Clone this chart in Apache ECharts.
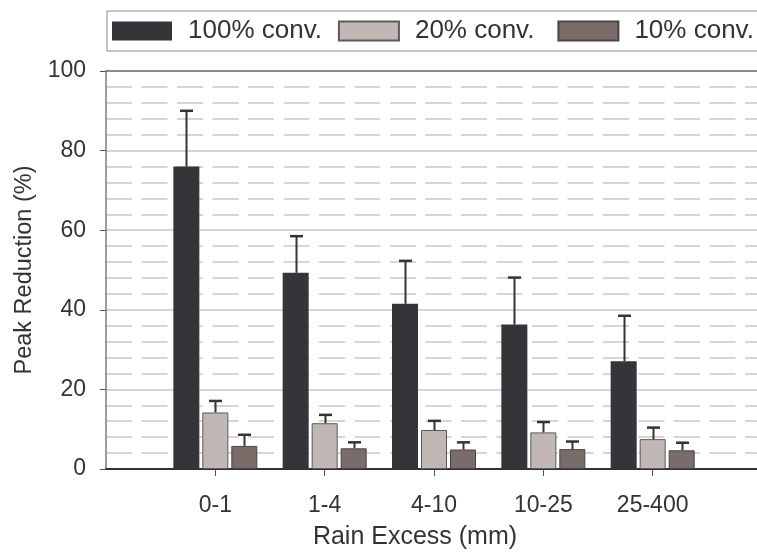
<!DOCTYPE html>
<html>
<head>
<meta charset="utf-8">
<script src="https://cdn.jsdelivr.net/npm/echarts@6/dist/echarts.min.js"></script>
<style>
html,body{margin:0;padding:0;background:#fff;}
#chart{width:757px;height:553px;}
</style>
</head>
<body>
<div id="chart"></div>
<script>
// ---- data ----
const categories = ['0-1', '1-4', '4-10', '10-25', '25-400'];
const seriesNames = ['100% conv.', '20% conv.', '10% conv.'];
const conv100 = [76.0, 49.3, 41.5, 36.3, 27.1];
const conv100Err = [14.0, 9.2, 10.8, 11.8, 11.4];
const conv20 = [14.2, 11.5, 9.8, 9.2, 7.5];
const conv20Err = [2.9, 2.1, 2.3, 2.6, 2.9];
const conv10 = [5.8, 5.2, 4.9, 5.0, 4.7];
const conv10Err = [2.8, 1.5, 1.8, 1.9, 1.9];
const yTicks = [0, 20, 40, 60, 80, 100];

// ---- styling ----
const FONT = 'Liberation Sans, Arial, Helvetica, sans-serif';
const TEXT = '#333333';
const colors = ['#353539', '#c1b8b5', '#7a6c68'];
const borders = ['#353539', '#5a5a5a', '#4a4444'];
const BAR_W = 26;
const BAR_STEP = 29;

const axisCats = [''].concat(categories, ['']);
function pad(arr) { return ['-'].concat(arr, ['-']); }

const values = [conv100, conv20, conv10];
const errs = [conv100Err, conv20Err, conv10Err];

const barSeries = values.map((v, i) => ({
  name: seriesNames[i],
  type: 'bar',
  data: pad(v),
  barWidth: BAR_W,
  barGap: ((BAR_STEP - BAR_W) / BAR_W * 100).toFixed(1) + '%',
  itemStyle: { color: colors[i], borderColor: borders[i], borderWidth: i === 0 ? 0 : 1 },
  emphasis: { disabled: true },
  z: 3
}));

const errSeries = values.map((v, i) => ({
  type: 'custom',
  name: seriesNames[i] + ' err',
  z: 4,
  data: v.map((val, k) => [k + 1, val, val + errs[i][k]]),
  renderItem: function (params, api) {
    const base = api.coord([api.value(0), api.value(1)]);
    const top = api.coord([api.value(0), api.value(2)]);
    const x = Math.round(base[0] + (i - 1) * BAR_STEP) + 0.5;
    const st = { stroke: '#333338', lineWidth: 2 };
    return {
      type: 'group',
      children: [
        { type: 'line', shape: { x1: x, y1: base[1], x2: x, y2: top[1] }, style: st },
        { type: 'line', shape: { x1: x - 6.5, y1: top[1], x2: x + 6.5, y2: top[1] }, style: { stroke: '#333338', lineWidth: 2.5 } }
      ]
    };
  }
}));

const legendText = { fontFamily: FONT, fontSize: 26, color: TEXT, padding: [0, 0, 0, 11], lineHeight: 28 };

const chart = echarts.init(document.getElementById('chart'), null, { renderer: 'canvas' });
chart.setOption({
  animation: false,
  backgroundColor: '#ffffff',
  textStyle: { fontFamily: FONT },
  legend: {
    data: seriesNames.map((n, i) => i === 1
      ? { name: n, textStyle: Object.assign({}, legendText, { padding: [0, 7, 0, 11] }) }
      : { name: n }),
    left: 107,
    top: 11,
    width: 700,
    orient: 'horizontal',
    icon: 'rect',
    itemWidth: 60,
    itemHeight: 19,
    itemGap: 16,
    padding: [6, 16, 6, 5],
    borderColor: '#8a8a8a',
    borderWidth: 1,
    textStyle: legendText,
    selectedMode: false
  },
  grid: { left: 106, top: 71, width: 656, height: 398, outerBoundsMode: 'none', containLabel: false },
  xAxis: [{
    type: 'category',
    data: axisCats,
    boundaryGap: false,
    axisLine: { show: true, lineStyle: { color: '#333333', width: 2 } },
    axisTick: { show: true, length: 7, inside: false, lineStyle: { color: '#555555', width: 1 },
      interval: function (idx, val) { return val !== ''; } },
    axisLabel: { fontFamily: FONT, fontSize: 23, color: TEXT, margin: 25,
      interval: function (idx, val) { return val !== ''; } },
    splitLine: { show: false },
    name: 'Rain Excess (mm)',
    nameLocation: 'middle',
    nameGap: 56,
    nameTextStyle: { fontFamily: FONT, fontSize: 25, color: TEXT, padding: [0, 38, 0, 0] }
  }, {
    type: 'category',
    data: axisCats,
    boundaryGap: false,
    position: 'top',
    axisLine: { show: true, lineStyle: { color: '#8a8a8a', width: 2 } },
    axisTick: { show: false },
    axisLabel: { show: false },
    splitLine: { show: false }
  }],
  yAxis: {
    type: 'value',
    min: yTicks[0],
    max: yTicks[yTicks.length - 1],
    interval: 20,
    axisLine: { show: true, lineStyle: { color: '#7a7a7a', width: 1.5 } },
    axisTick: { show: true, length: 6, inside: false, lineStyle: { color: '#555555', width: 1 } },
    axisLabel: { fontFamily: FONT, fontSize: 23, color: TEXT, margin: 20 },
    splitLine: { show: true, lineStyle: { color: '#cfc4c4', width: 1.5, type: 'solid' } },
    minorTick: { show: false, splitNumber: 5 },
    minorSplitLine: { show: true, lineStyle: { color: '#cfc4c4', width: 1.5, type: [26, 9.5] } },
    name: 'Peak Reduction (%)',
    nameLocation: 'middle',
    nameGap: 65,
    nameTextStyle: { fontFamily: FONT, fontSize: 23.5, color: TEXT }
  },
  series: barSeries.concat(errSeries)
});
</script>
</body>
</html>
